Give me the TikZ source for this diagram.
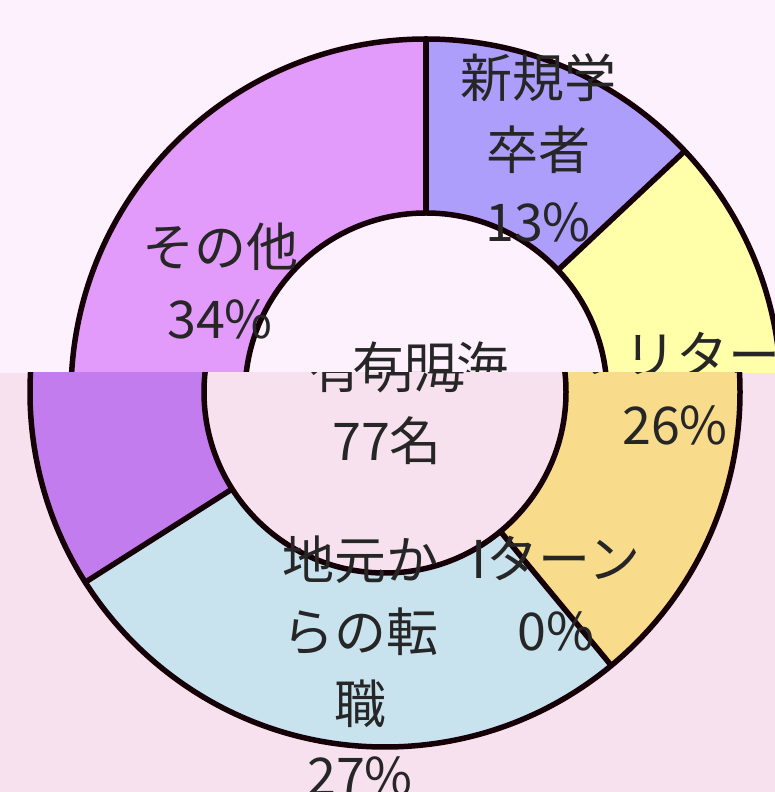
\documentclass[tikz,border=0pt]{standalone}
\usepackage{fontspec}
\setmainfont{Noto Sans CJK JP}

\definecolor{bgupper}{HTML}{FDF1FD}
\definecolor{bglower}{HTML}{F8E1EE}
\definecolor{otherup}{HTML}{E29BFB}
\definecolor{gradup}{HTML}{AE9EFB}
\definecolor{uturnup}{HTML}{FFFFAA}
\definecolor{otherlow}{HTML}{C27CEE}
\definecolor{uturnlow}{HTML}{F8DC8C}
\definecolor{locallow}{HTML}{C8E2EE}
\definecolor{ringline}{HTML}{160008}
\definecolor{labelgray}{HTML}{262626}

\begin{document}
\begin{tikzpicture}[x=1pt, y=1pt,
    ring line/.style={line width=5.5pt, draw=ringline},
    slice label/.style={align=center, text=labelgray, inner sep=0pt,
        font=\fontsize{52}{72}\selectfont}]

    \useasboundingbox (0,0) rectangle (775,792);

    % Upper half (first chart)
    \begin{scope}
        \clip (0,419) rectangle (775,792);
        \fill[bgupper] (0,419) rectangle (775,792);
        \begin{scope}[shift={(426,398)}]
            \fill[otherup] (90:355) arc[start angle=90, end angle=212.4, radius=355]
                -- (212.4:181) arc[start angle=212.4, end angle=90, radius=181] -- cycle;
            \fill[gradup] (43.2:355) arc[start angle=43.2, end angle=90, radius=355]
                -- (90:181) arc[start angle=90, end angle=43.2, radius=181] -- cycle;
            \fill[uturnup] (-50.4:355) arc[start angle=-50.4, end angle=43.2, radius=355]
                -- (43.2:181) arc[start angle=43.2, end angle=-50.4, radius=181] -- cycle;
            \fill[bgupper] (0,0) circle[radius=181];
            \draw[ring line] (0,0) circle[radius=355];
            \draw[ring line] (0,0) circle[radius=181];
            \draw[ring line] (90:181) -- (90:355);
            \draw[ring line] (43.2:181) -- (43.2:355);
        \end{scope}

        \node[slice label] (newgrad) at (538,644) {新規学\\卒者\\13\%};
        \node[slice label] (otherA) at (220,511) {その他\\34\%};
        \node[slice label] (uturnA) at (727,438) {リターン};
        \node[slice label] (centreA) at (430,426) {有明海};
    \end{scope}

    % Lower half (second chart)
    \begin{scope}
        \clip (0,0) rectangle (775,419);
        \fill[bglower] (0,0) rectangle (775,419);
        \begin{scope}[shift={(385,400)}]
            \fill[otherlow] (90:355) arc[start angle=90, end angle=212.4, radius=355]
                -- (212.4:181) arc[start angle=212.4, end angle=90, radius=181] -- cycle;
            \fill[uturnlow] (-50.4:355) arc[start angle=-50.4, end angle=43.2, radius=355]
                -- (43.2:181) arc[start angle=43.2, end angle=-50.4, radius=181] -- cycle;
            \fill[locallow] (-147.6:355) arc[start angle=-147.6, end angle=-50.4, radius=355]
                -- (-50.4:181) arc[start angle=-50.4, end angle=-147.6, radius=181] -- cycle;
            \fill[bglower] (0,0) circle[radius=181];
            \draw[ring line] (0,0) circle[radius=355];
            \draw[ring line] (0,0) circle[radius=181];
            \draw[ring line] (-50.4:181) -- (-50.4:355);
            \draw[ring line] (-147.6:181) -- (-147.6:355);
        \end{scope}

        \node[slice label] (centreB) at (387,387) {有明海\\77名};
        \node[slice label] (uturnB) at (675,404) {リターン\\26\%};
        \node[slice label] (iturnB) at (556,198) {Iターン\\0\%};
        \node[slice label] (localB) at (360,126) {地元か\\らの転\\職\\27\%};
    \end{scope}

\end{tikzpicture}
\end{document}
